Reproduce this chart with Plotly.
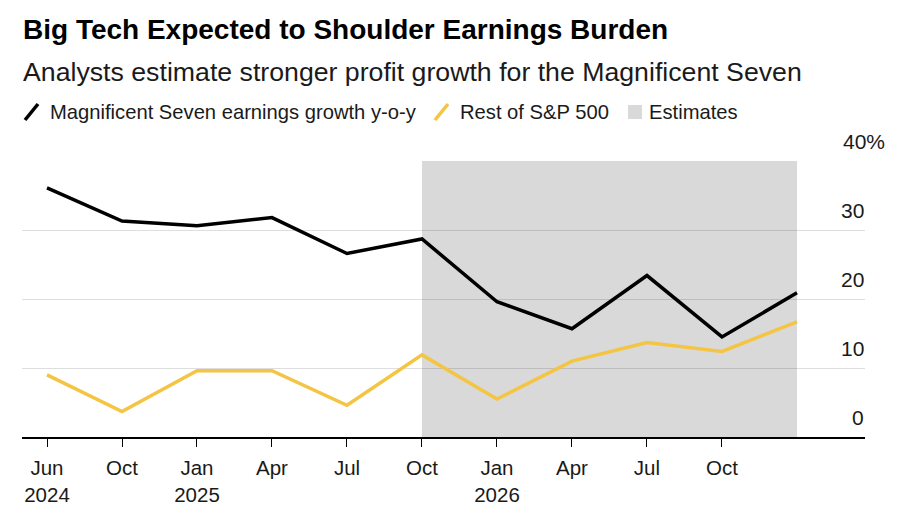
import plotly.graph_objects as go

# ---- data ----
periods = ["Jun 2024", "Oct 2024", "Jan 2025", "Apr 2025", "Jul 2025", "Oct 2025",
           "Jan 2026", "Apr 2026", "Jul 2026", "Oct 2026", "Jan 2027"]
mag7 = [36.1, 31.3, 30.6, 31.8, 26.6, 28.7, 19.6, 15.7, 23.4, 14.5, 20.9]
rest_sp500 = [9.0, 3.7, 9.6, 9.6, 4.6, 11.9, 5.5, 11.0, 13.7, 12.4, 16.7]
tick_labels = ["Jun<br>2024", "Oct", "Jan<br>2025", "Apr", "Jul", "Oct",
               "Jan<br>2026", "Apr", "Jul", "Oct"]
y_ticks = [0, 10, 20, 30, 40]
y_tick_text = ["0", "10", "20", "30", "40%"]
estimate_start = "Oct 2025"
estimate_end = "Jan 2027"

title = "Big Tech Expected to Shoulder Earnings Burden"
subtitle = "Analysts estimate stronger profit growth for the Magnificent Seven"
name_mag7 = "Magnificent Seven earnings growth y-o-y"
name_rest = "Rest of S&P 500"
name_est = "Estimates"

xs = list(range(len(periods)))
idx = {p: i for i, p in enumerate(periods)}

FONT = "Liberation Sans"
TXT = "#1a1a1a"
BLACK = "#000000"
YELLOW = "#f4c443"
SHADE = "#d9d9d9"

W, H = 900, 510
ML, MR, MT, MB = 22, 35, 161, 73


def px_x(px):
    return (px - ML) / (W - ML - MR)


def px_y(py):
    return 1 - (py - MT) / (H - MT - MB)


fig = go.Figure()
fig.add_trace(go.Scatter(x=xs, y=rest_sp500, mode="lines", name=name_rest,
                         line=dict(color=YELLOW, width=3.5), showlegend=False))
fig.add_trace(go.Scatter(x=xs, y=mag7, mode="lines", name=name_mag7,
                         line=dict(color=BLACK, width=3.5), showlegend=False))

# Estimates shading (drawn below gridlines)
fig.add_shape(type="rect", xref="x", yref="y", x0=idx[estimate_start], x1=idx[estimate_end],
              y0=y_ticks[0], y1=y_ticks[-1], fillcolor=SHADE, line_width=0, layer="below")

anns = []
# y-axis labels sitting above their gridlines on the right
for v, t in zip(y_ticks, y_tick_text):
    if t.endswith("%"):
        anns.append(dict(x=px_x(841), xref="paper", y=v, yref="y", text=t, showarrow=False,
                         xanchor="left", yanchor="middle", yshift=20,
                         font=dict(family=FONT, size=21, color=TXT)))
    else:
        anns.append(dict(x=px_x(866), xref="paper", y=v, yref="y", text=t, showarrow=False,
                         xanchor="right", yanchor="middle", yshift=20,
                         font=dict(family=FONT, size=21, color=TXT)))

anns.append(dict(x=px_x(21), y=px_y(30), xref="paper", yref="paper",
                 text="<b>" + title + "</b>", showarrow=False,
                 xanchor="left", yanchor="middle", font=dict(family=FONT, size=28, color=BLACK)))
anns.append(dict(x=px_x(21), y=px_y(72), xref="paper", yref="paper",
                 text=subtitle, showarrow=False,
                 xanchor="left", yanchor="middle", font=dict(family=FONT, size=26.7, color=TXT)))

legend_items = [
    ("line", BLACK, name_mag7, 24, 48),
    ("line", YELLOW, name_rest, 434, 458),
    ("box", SHADE, name_est, 628, 647),
]
for kind, col, txt, sx, tx in legend_items:
    if kind == "line":
        fig.add_shape(type="line", xref="paper", yref="paper",
                      x0=px_x(sx + 1), y0=px_y(120), x1=px_x(sx + 14), y1=px_y(104),
                      line=dict(color=col, width=3.5))
    else:
        fig.add_shape(type="rect", xref="paper", yref="paper",
                      x0=px_x(sx), y0=px_y(119), x1=px_x(sx + 14), y1=px_y(105),
                      fillcolor=col, line_width=0)
    anns.append(dict(x=px_x(tx), y=px_y(112), xref="paper", yref="paper", text=txt,
                     showarrow=False, xanchor="left", yanchor="middle",
                     font=dict(family=FONT, size=20.2, color=TXT)))

fig.update_layout(
    annotations=anns,
    width=W, height=H,
    margin=dict(l=ML, r=MR, t=MT, b=MB, autoexpand=False),
    paper_bgcolor="white", plot_bgcolor="white",
    showlegend=False,
    font=dict(family=FONT, color=TXT),
    xaxis=dict(range=[-1 / 3, 10.907], tickmode="array", tickvals=list(range(len(tick_labels))),
               ticktext=tick_labels, showgrid=False, zeroline=False, automargin=False,
               showline=True, linecolor=BLACK, linewidth=1.5,
               ticks="outside", ticklen=8, tickwidth=1.2, tickcolor=BLACK,
               ticklabelstandoff=4,
               tickfont=dict(family=FONT, size=20.5, color=TXT)),
    yaxis=dict(range=[y_ticks[0], y_ticks[-1]], tickmode="array", tickvals=y_ticks, showticklabels=False,
               showgrid=True, gridcolor="rgba(0,0,0,0.13)", gridwidth=1.2, automargin=False,
               zeroline=False, showline=False),
)

fig.write_html("out.html", config={"displayModeBar": False},
               post_script="document.body.style.margin='0';document.body.style.overflow='hidden';")
